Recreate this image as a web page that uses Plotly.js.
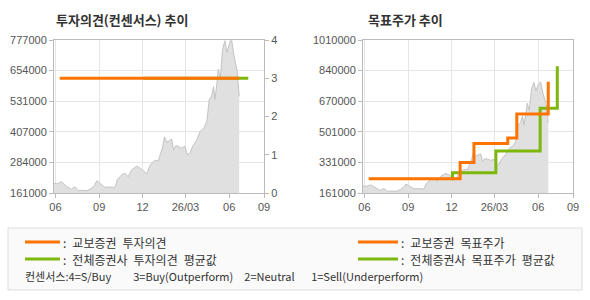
<!DOCTYPE html>
<html><head><meta charset="utf-8">
<script src="https://cdn.plot.ly/plotly-3.0.1.min.js"></script>
<style>html,body{margin:0;padding:0;background:#fff;}#c{width:590px;height:300px;}</style>
</head><body><div id="c"></div>
<script>
// Price series (dates and closing prices)
const priceDates = ["2025-05-29","2025-06-05","2025-06-14","2025-06-20","2025-06-25","2025-07-01","2025-07-05","2025-07-12","2025-07-19","2025-07-27","2025-08-06","2025-08-16","2025-08-22","2025-08-27","2025-09-03","2025-09-13","2025-09-24","2025-10-04","2025-10-09","2025-10-18","2025-10-25","2025-11-01","2025-11-08","2025-11-14","2025-11-19","2025-11-26","2025-12-03","2025-12-10","2025-12-17","2025-12-27","2026-01-03","2026-01-08","2026-01-12","2026-01-16","2026-01-21","2026-01-26","2026-01-31","2026-02-04","2026-02-09","2026-02-14","2026-02-21","2026-02-28","2026-03-05","2026-03-11","2026-03-16","2026-03-25","2026-04-01","2026-04-09","2026-04-15","2026-04-20","2026-04-25","2026-04-29","2026-05-02","2026-05-06","2026-05-09","2026-05-13","2026-05-18","2026-05-23","2026-05-27","2026-06-01","2026-06-06","2026-06-11","2026-06-17","2026-06-22"];
const priceValues = [200000,198000,206000,195000,186000,180000,176000,186000,170000,172000,170000,180000,192000,210000,200000,184000,185000,183000,214000,234000,241000,227000,254000,262000,270000,261000,251000,238000,274000,292000,290000,322000,345000,387000,365000,372000,379000,335000,352000,349000,342000,348000,315000,322000,349000,376000,409000,423000,450000,538000,551000,589000,538000,600000,659000,619000,740000,774000,727000,761000,778000,713000,659000,551000];

// Investment opinion (1-4 scale)
const opinionDates = ["2025-06-10","2026-06-22"];
const opinionKyobo = [3,3];
const opinionAvgDates = ["2025-12-03","2026-07-11"];
const opinionAvg = [3,3];

// Target prices
const targetDates = ["2025-06-10","2025-12-19","2026-01-17","2026-03-29","2026-04-17","2026-06-22"];
const targetKyobo = [240000,330000,435000,466000,600000,778000];
const targetAvgDates = ["2025-12-02","2025-12-03","2026-03-04","2026-06-05","2026-07-11"];
const targetAvg = [240000,273000,394000,631000,865000];

// Axis ticks
const xTickVals = ["2025-06-01","2025-09-01","2025-12-01","2026-03-01","2026-06-01","2026-08-13"];
const xTickText = ["06","09","12","26/03","06","09"];
const xRange = ["2025-05-29","2026-08-13"];
const yLeftTicks = [161000,284200,407400,530600,653800,777000];
const yLeftText = ["161000","284000","407000","531000","654000","777000"];
const yRightTicks = [161000,330800,500600,670400,840200,1010000];
const yRightText = ["161000","331000","501000","670000","840000","1010000"];
const opTicks = [0,1,2,3,4];

const ORANGE = "#ff7300", GREEN = "#7cb80c";
const tickFont = {family:"Liberation Sans, Arial, sans-serif", size:11, color:"#555"};
const kFont = "Noto Sans CJK KR, sans-serif";
const sp = "\u2002";

const priceTrace = (xa, ya) => ({
  x: priceDates, y: priceValues, xaxis: xa, yaxis: ya, type: "scatter", mode: "lines",
  fill: "tozeroy", fillcolor: "#e0e0e0", line: {color: "#c4c4c4", width: 1}, hoverinfo: "skip"
});

const data = [
  priceTrace("x","y"),
  {x: opinionAvgDates, y: opinionAvg, xaxis:"x", yaxis:"y2", mode:"lines", line:{color:GREEN,width:3}},
  {x: opinionDates, y: opinionKyobo, xaxis:"x", yaxis:"y2", mode:"lines", line:{color:ORANGE,width:3}},
  priceTrace("x2","y3"),
  {x: targetAvgDates, y: targetAvg, xaxis:"x2", yaxis:"y3", mode:"lines", line:{color:GREEN,width:3,shape:"hv"}},
  {x: targetDates, y: targetKyobo, xaxis:"x2", yaxis:"y3", mode:"lines", line:{color:ORANGE,width:3,shape:"hv"}}
];

const yDom = [107/300, 260/300];
const xAx = (dom, anchor) => ({
  domain: dom, anchor: anchor, type: "date", range: xRange,
  tickvals: xTickVals, ticktext: xTickText, tickfont: tickFont,
  showgrid: true, gridcolor: "#e6e6e6", gridwidth: 1,
  showline: true, linecolor: "#bbbbbb", mirror: true, linewidth: 1,
  ticks: "outside", ticklen: 4, tickcolor: "#bbbbbb", zeroline: false
});
const yAx = (anchor, tv, tt) => ({
  domain: yDom, anchor: anchor, range: [tv[0], tv[tv.length-1]],
  tickvals: tv, ticktext: tt, tickfont: tickFont,
  showgrid: true, gridcolor: "#e6e6e6",
  showline: true, linecolor: "#bbbbbb", mirror: true,
  ticks: "outside", ticklen: 4, tickcolor: "#bbbbbb", zeroline: false
});

const L = 8, R = 582, T = 228, B = 290;
const py = v => (300 - v) / 300, px = v => v / 590;

const shapes = [
  {type:"rect", xref:"paper", yref:"paper", x0:px(L), x1:px(R), y0:py(B), y1:py(T), line:{color:"#dddddd",width:1}, fillcolor:"#fafafa", layer:"below"},
  {type:"line", xref:"paper", yref:"paper", x0:px(25), x1:px(60), y0:py(242), y1:py(242), line:{color:ORANGE,width:3}},
  {type:"line", xref:"paper", yref:"paper", x0:px(25), x1:px(60), y0:py(259), y1:py(259), line:{color:GREEN,width:3}},
  {type:"line", xref:"paper", yref:"paper", x0:px(358), x1:px(398), y0:py(242), y1:py(242), line:{color:ORANGE,width:3}},
  {type:"line", xref:"paper", yref:"paper", x0:px(358), x1:px(398), y0:py(259), y1:py(259), line:{color:GREEN,width:3}}
];
const ann = (x, y, text, opts={}) => Object.assign({
  xref:"paper", yref:"paper", x:px(x), y:py(y), xanchor:"left", yanchor:"middle",
  text:text, showarrow:false, font:{family:kFont, size:12, color:"#333"}
}, opts);
const annotations = [
  ann(54, 20, "<b>투자의견(컨센서스) 추이</b>", {font:{family:kFont,size:13,color:"#333"}}),
  ann(366, 20, "<b>목표주가 추이</b>", {font:{family:kFont,size:13,color:"#333"}}),
  ann(61, 242, ":" + sp + "교보증권" + sp + "투자의견"),
  ann(61, 259, ":" + sp + "전체증권사" + sp + "투자의견" + sp + "평균값"),
  ann(399, 242, ":" + sp + "교보증권" + sp + "목표주가"),
  ann(399, 259, ":" + sp + "전체증권사" + sp + "목표주가" + sp + "평균값"),
  ann(23, 276, "컨센서스:4=S/Buy" + sp.repeat(4) + "3=Buy(Outperform)" + sp.repeat(2) + "2=Neutral" + sp.repeat(3) + "1=Sell(Underperform)", {font:{family:kFont,size:11,color:"#333"}})
];

const layout = {
  width: 590, height: 300, autosize: false,
  margin: {l:0, r:0, t:0, b:0, pad:0},
  paper_bgcolor: "#ffffff", plot_bgcolor: "#ffffff",
  showlegend: false,
  xaxis: xAx([54/590, 264/590], "y"),
  yaxis: yAx("x", yLeftTicks, yLeftText),
  yaxis2: {domain: yDom, anchor:"x", overlaying:"y", side:"right", range:[0,4], tickvals: opTicks,
           tickfont: tickFont, showgrid:false, zeroline:false, ticks:"outside", ticklen:4, tickcolor:"#bbbbbb", showline:false},
  xaxis2: xAx([363/590, 573/590], "y3"),
  yaxis3: yAx("x2", yRightTicks, yRightText),
  shapes: shapes,
  annotations: annotations
};

Plotly.newPlot("c", data, layout, {displayModeBar:false, staticPlot:true});
</script></body></html>
